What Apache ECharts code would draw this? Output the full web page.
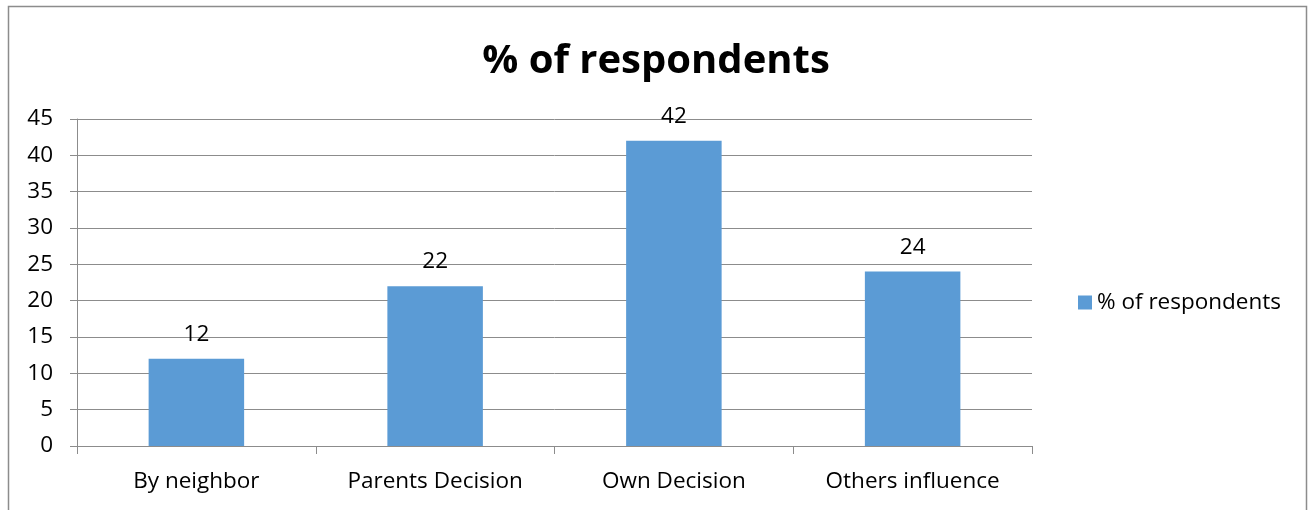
<!DOCTYPE html>
<html><head><meta charset="utf-8">
<script src="https://cdn.jsdelivr.net/npm/echarts@6/dist/echarts.min.js"></script>
<style>html,body{margin:0;padding:0;background:#fff}#c{width:1312px;height:510px}</style>
</head><body><div id="c"></div>
<script>
const categories = ['By neighbor', 'Parents Decision', 'Own Decision', 'Others influence'];
const values = [12, 22, 42, 24];
const seriesName = '% of respondents';
const titleText = '% of respondents';
const FONT = '"Open Sans", "Noto Sans", sans-serif';
const chart = echarts.init(document.getElementById('c'));
chart.setOption({
  animation: false,
  backgroundColor: '#fff',
  graphic: [{type:'rect', shape:{x:8.5,y:6.5,width:1298,height:520}, style:{fill:'none', stroke:'#8c8c8c', lineWidth:1.5}, silent:true}],
  title: {text: titleText, left: 'center', top: 37, textStyle:{fontFamily:FONT, fontSize:40, fontWeight:'bold', color:'#000'}},
  legend: {right: 26, top: 286, itemWidth: 14, itemHeight: 14, icon:'rect', textStyle:{fontFamily:FONT, fontSize:22.5, color:'#000'}, itemGap: 8},
  grid: {left: 77, right: 280, top: 119, bottom: 64, containLabel: false},
  xAxis: {type:'category', data: categories,
    axisLine:{lineStyle:{color:'#8c8c8c', width:1}},
    axisTick:{show:true, length:8, lineStyle:{color:'#8c8c8c'}},
    axisLabel:{fontFamily:FONT, fontSize:22.5, color:'#000', margin:24}},
  yAxis: {type:'value', min:0, max:45, interval:5,
    axisLine:{show:true, lineStyle:{color:'#8c8c8c'}},
    axisTick:{show:true, length:7, lineStyle:{color:'#8c8c8c'}},
    splitLine:{lineStyle:{color:'#8c8c8c', width:1}},
    axisLabel:{fontFamily:FONT, fontSize:22.5, color:'#000', margin:24}},
  series: [{name: seriesName, type:'bar', data: values, barWidth:'40%',
    itemStyle:{color:'#5B9BD5'},
    label:{show:true, position:'top', distance:13, fontFamily:FONT, fontSize:22.5, color:'#000'}}]
});
</script></body></html>
